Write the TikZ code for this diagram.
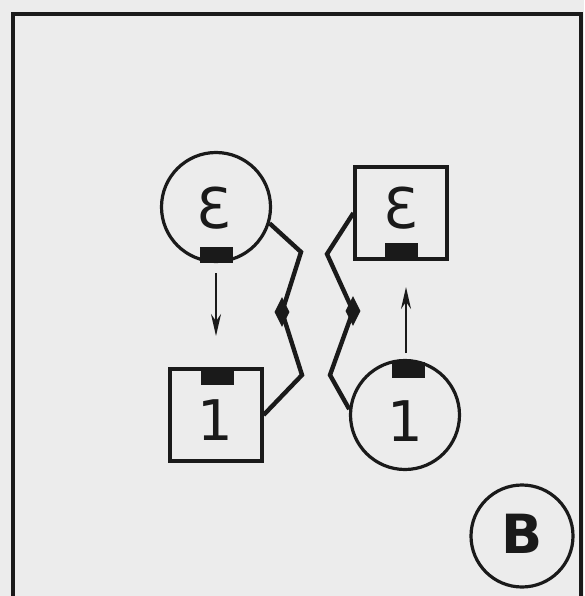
\documentclass[tikz,border=0pt]{standalone}
\usepackage{fontspec}
\setmainfont{DejaVu Sans}
\usetikzlibrary{shapes.geometric,arrows.meta}
\definecolor{paper}{HTML}{ECECEC}
\definecolor{inkc}{HTML}{1A1A1A}
\tikzset{
  unitcirc/.style={circle, draw=inkc, line width=3.2pt, minimum size=109pt, inner sep=0pt},
  unitbox/.style={rectangle, draw=inkc, line width=3.2pt, minimum size=92pt, inner sep=0pt},
  port/.style={rectangle, fill=inkc, inner sep=0pt, minimum width=33pt, minimum height=16pt},
  lbl/.style={inner sep=0pt, text=inkc, font=\fontsize{56}{56}\selectfont},
  wire/.style={draw=inkc, line width=4.4pt, line join=miter},
  blob/.style={diamond, fill=inkc, inner sep=0pt, minimum width=15pt, minimum height=30pt},
  flow/.style={draw=inkc, line width=2.4pt, -{Stealth[length=22pt,width=10pt]}},
}
\begin{document}
\begin{tikzpicture}[x=1pt,y=-1pt]
\useasboundingbox (0,0) rectangle (584,596);
\fill[paper] (0,0) rectangle (584,596);
\draw[inkc, line width=4pt] (13,600) -- (13,14) -- (581,14) -- (581,600);
% units
\node[unitcirc] (cE) at (216,207) {};
\node[lbl] (tE1) at (214,208) {Ɛ};
\node[port] (pE1) at (216,255) {};
\node[unitbox] (s1) at (216,415) {};
\node[port] (p11) at (217,377) {};
\node[lbl] (t11) at (215,420) {1};
\node[unitbox] (sE) at (401,213) {};
\node[port] (pE2) at (401,251) {};
\node[lbl] (tE2) at (401,208) {Ɛ};
\node[unitcirc] (c1) at (405,415) {};
\node[port] (p12) at (408,370) {};
\node[lbl] (t12) at (405,421) {1};
% B label
\node[circle, draw=inkc, line width=3.2pt, minimum size=102pt, inner sep=0pt] (cB) at (522,536) {};
\node[lbl, font=\fontsize{54}{54}\selectfont\bfseries] (tB) at (522,534) {B};
% flows
\coordinate (a1s) at (216,273);
\coordinate (a1e) at (216,336);
\draw[flow] (a1s) -- (a1e);
\coordinate (a2s) at (406,353);
\coordinate (a2e) at (406,287);
\draw[flow] (a2s) -- (a2e);
% wires
\coordinate (l1) at (301,252);
\node[blob] (dL) at (282,312) {};
\coordinate (l2) at (302,375);
\draw[wire] (cE.-17) -- (l1) -- (dL.center) -- (l2) -- (s1.east);
\coordinate (r1) at (327,254);
\node[blob] (dR) at (353,311) {};
\coordinate (r2) at (330,375);
\draw[wire] (sE.west) -- (r1) -- (dR.center) -- (r2) -- (c1.174);
\end{tikzpicture}
\end{document}
